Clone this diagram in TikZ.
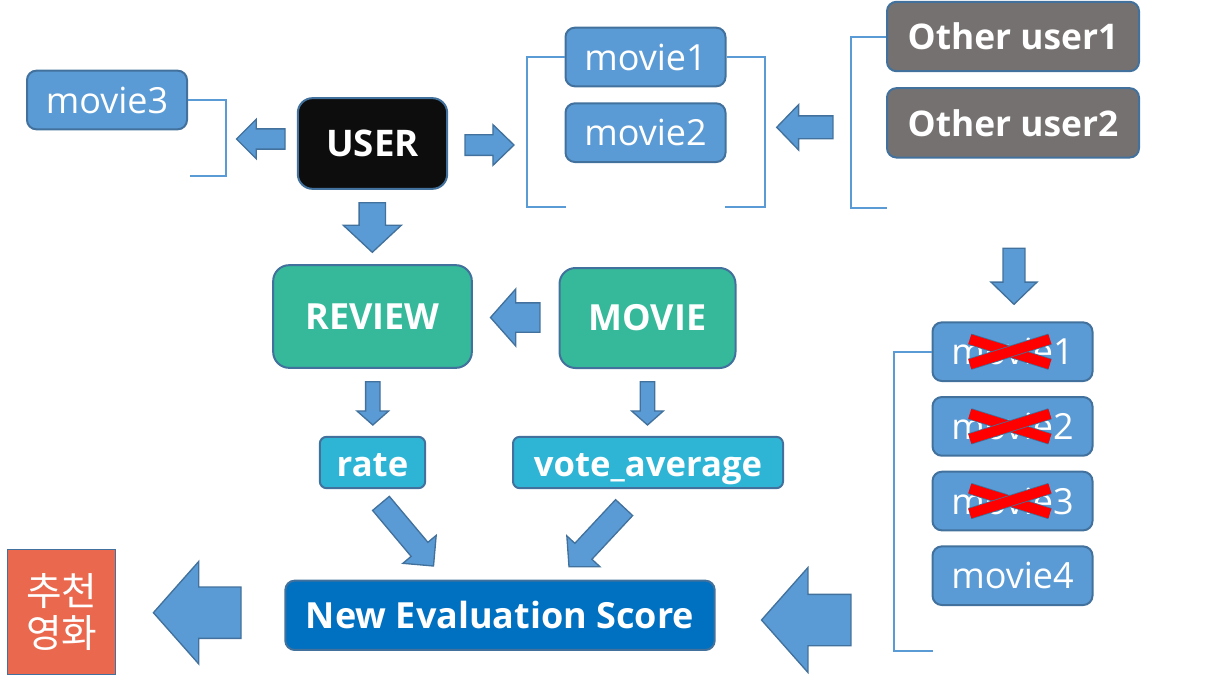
\documentclass[tikz,border=0pt]{standalone}
\usepackage{fontspec}
\setmainfont{Open Sans}
\newfontfamily\krfont{Noto Sans CJK KR}
\usetikzlibrary{
  shapes.arrows,
  positioning
}
\definecolor{mvblue}{HTML}{5B9BD5}
\definecolor{bordblue}{HTML}{41719C}
\definecolor{usergray}{HTML}{767171}
\definecolor{tblgreen}{HTML}{35B99A}
\definecolor{colcyan}{HTML}{2EB5D6}
\definecolor{scoreblue}{HTML}{0070C0}
\definecolor{recored}{HTML}{EA694E}
\definecolor{userblack}{HTML}{0D0D0D}
\tikzset{
  box/.style={draw=bordblue,line width=1.5pt,rounded corners=7pt,text=white,inner sep=0pt},
  moviebox/.style={box,fill=mvblue,minimum width=120pt,minimum height=44pt,font=\fontsize{27}{30}\selectfont},
  otherbox/.style={box,fill=usergray,minimum width=189pt,minimum height=52pt,font=\bfseries\fontsize{26.5}{30}\selectfont},
  tblbox/.style={box,fill=tblgreen,rounded corners=12pt,font=\bfseries\fontsize{27}{30}\selectfont},
  colbox/.style={box,fill=colcyan,minimum height=38.5pt,rounded corners=5pt,text height=21pt,text depth=0pt,
    font=\bfseries\fontsize{26}{30}\selectfont},
  bracket/.style={draw=mvblue,line width=1.5pt},
  blk/.style={single arrow,draw=bordblue,fill=mvblue,line width=1pt,inner xsep=0pt,outer sep=0pt,anchor=tip},
  xcross/.style={draw=bordblue,line width=0.6pt,double=red,double distance=7.5pt}
}

\begin{document}
\begin{tikzpicture}[x=0.75pt,y=-0.75pt]
    \useasboundingbox (0,0) rectangle (1209,696);
    %boxes
    \node[box,fill=userblack,minimum width=112pt,minimum height=68pt,rounded corners=11pt,
      font=\bfseries\fontsize{27.5}{30}\selectfont] (user) at (372.5,143.5) {USER};
    \node[moviebox] (movie3) at (107,100) {movie3};
    \node[moviebox] (movie1) at (645.5,57) {movie1};
    \node[moviebox,below=11.25pt of movie1] (movie2) {movie2};
    \node[otherbox] (other1) at (1013,36.5) {Other user1};
    \node[otherbox,below=11.25pt of other1] (other2) {Other user2};
    \node[tblbox,minimum width=149pt,minimum height=77pt] (review) at (372.5,316.5) {REVIEW};
    \node[tblbox,minimum width=132pt,minimum height=75pt] (movie) at (647.5,318) {MOVIE};
    \node[colbox,minimum width=79pt] (rate) at (372.5,462.5) {rate};
    \node[colbox,minimum width=202.5pt] (vote) at (648,462.5) {vote\_average};
    \node[box,fill=scoreblue,minimum width=322pt,minimum height=52pt,
      font=\bfseries\fontsize{27}{30}\selectfont] (score) at (500,615.3) {New Evaluation Score};
    \node[draw=bordblue,line width=1pt,fill=recored,text=white,minimum width=81pt,minimum height=93.5pt,
      inner sep=0pt,align=center,font=\krfont\fontsize{29}{32}\selectfont] (reco) at (61.8,612) {추천\\영화};
    \node[moviebox] (rm1) at (1012.5,351.7) {movie1};
    \node[moviebox,below=10.5pt of rm1] (rm2) {movie2};
    \node[moviebox,below=10.5pt of rm2] (rm3) {movie3};
    \node[moviebox,below=10.5pt of rm3] (rm4) {movie4};
    %crossed out
    \draw[xcross] ([shift={(-32pt,9.4pt)}]rm1.center) -- ([shift={(28pt,-9.4pt)}]rm1.center);
    \draw[xcross] ([shift={(-32pt,-9.4pt)}]rm1.center) -- ([shift={(28pt,9.4pt)}]rm1.center);
    \draw[xcross] ([shift={(-32pt,9.4pt)}]rm2.center) -- ([shift={(28pt,-9.4pt)}]rm2.center);
    \draw[xcross] ([shift={(-32pt,-9.4pt)}]rm2.center) -- ([shift={(28pt,9.4pt)}]rm2.center);
    \draw[xcross] ([shift={(-32pt,9.4pt)}]rm3.center) -- ([shift={(28pt,-9.4pt)}]rm3.center);
    \draw[xcross] ([shift={(-32pt,-9.4pt)}]rm3.center) -- ([shift={(28pt,9.4pt)}]rm3.center);
    %brackets
    \coordinate (m3end) at (190,176);
    \coordinate (m12l) at (566,207);
    \coordinate (m12r) at (725,207);
    \coordinate (oend) at (887,208);
    \coordinate (rend) at (933,650.5);
    \draw[bracket] (movie3.east) -- ++(38,0) |- (m3end);
    \draw[bracket] (movie1.west) -- ++(-37.5,0) |- (m12l);
    \draw[bracket] (movie1.east) -- ++(38.5,0) |- (m12r);
    \draw[bracket] (other1.west) -- ++(-35,0) |- (oend);
    \draw[bracket] (rm1.west) -- ++(-38,0) |- (rend);
    %block arrows (placed by their tips)
    \node[blk,rotate=180,minimum height=36.4pt,inner ysep=7.1pt,single arrow head extend=7.2pt,
      single arrow tip angle=90] (auleft) at (236.5,139) {};
    \node[blk,minimum height=36.75pt,inner ysep=7.25pt,single arrow head extend=7.5pt,
      single arrow tip angle=88] (auright) at (514,145) {};
    \node[blk,rotate=180,minimum height=42.2pt,inner ysep=8.1pt,single arrow head extend=8.4pt,
      single arrow tip angle=92] (aother) at (776.7,127.3) {};
    \node[blk,rotate=-90,minimum height=42pt,inner ysep=7.7pt,single arrow head extend=9pt,
      single arrow tip angle=92] (aodown) at (1014,304.3) {};
    \node[blk,rotate=-90,minimum height=37.2pt,inner ysep=9.4pt,single arrow head extend=11.9pt,
      single arrow tip angle=94] (audown) at (372.3,252.3) {};
    \node[blk,rotate=180,minimum height=37.1pt,inner ysep=10.5pt,single arrow head extend=10.4pt,
      single arrow tip angle=97] (amovie) at (490.5,317.5) {};
    \node[blk,rotate=-90,minimum height=32.5pt,inner ysep=4.9pt,single arrow head extend=6.5pt,
      single arrow tip angle=97] (arate) at (372.8,425) {};
    \node[blk,rotate=-90,minimum height=32.5pt,inner ysep=4.9pt,single arrow head extend=6.5pt,
      single arrow tip angle=97] (avote) at (647.5,425) {};
    \node[blk,rotate=-50,minimum height=61.3pt,inner ysep=7.7pt,single arrow head extend=8.1pt,
      single arrow tip angle=90] (ardiag) at (433.5,566) {};
    \node[blk,rotate=-133,minimum height=60.6pt,inner ysep=8.25pt,single arrow head extend=8.2pt,
      single arrow tip angle=94] (avdiag) at (569,566.7) {};
    \node[blk,rotate=180,minimum height=65.7pt,inner ysep=18.75pt,single arrow head extend=19.2pt,
      single arrow tip angle=97] (areco) at (153.4,612.7) {};
    \node[blk,rotate=180,minimum height=67.1pt,inner ysep=18.75pt,single arrow head extend=20.1pt,
      single arrow tip angle=97] (ascore) at (761.5,620) {};
\end{tikzpicture}
\end{document}
